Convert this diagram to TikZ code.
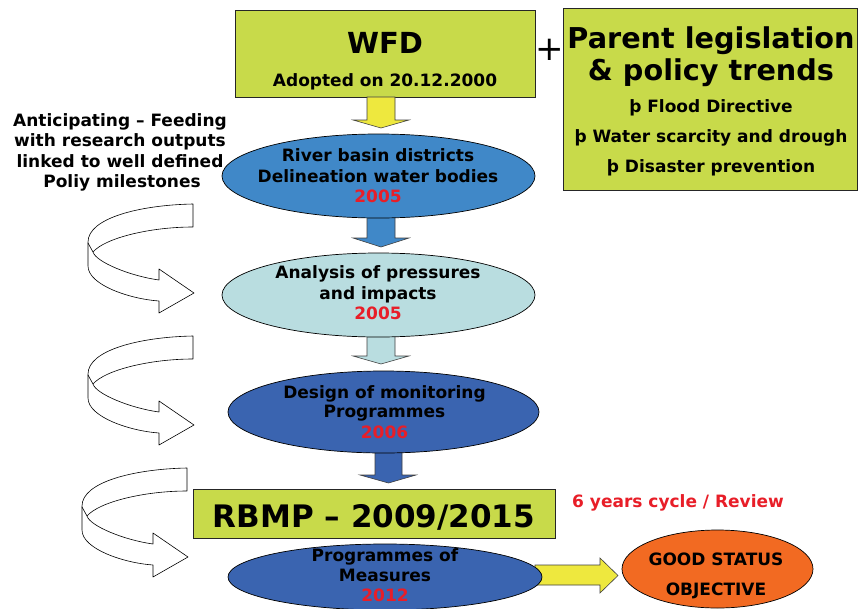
\documentclass[tikz,border=0pt]{standalone}
\usepackage{fontspec}
\setmainfont{DejaVu Sans}
\usetikzlibrary{shapes.geometric}
\definecolor{limebox}{RGB}{200,218,74}
\definecolor{blueA}{RGB}{64,136,200}
\definecolor{cyanL}{RGB}{185,221,224}
\definecolor{blueD}{RGB}{58,100,176}
\definecolor{orangeG}{RGB}{242,106,34}
\definecolor{yellowA}{RGB}{238,232,62}
\definecolor{redT}{RGB}{232,30,40}
\begin{document}
\begin{tikzpicture}[x=1pt,y=-1pt,
  txt/.style={font=\fontsize{17}{20}\selectfont\bfseries, inner sep=0pt, anchor=base},
  redtxt/.style={txt, text=redT},
  greenbox/.style={draw=black!85, line width=0.9pt, fill=limebox, inner sep=0pt},
  oval/.style={ellipse, draw=black, line width=0.7pt, inner sep=0pt},
  blockarr/.style={draw=black!75, line width=0.6pt},
  uturn/.pic={
    \draw[fill=white, line width=0.6pt, line join=round]
      (0,0) .. controls (-53,1) and (-105,14) .. (-105,38) -- (-105,62)
      .. controls (-105,81) and (-63,95) .. (-34,97) -- (-34,109) -- (1,89)
      -- (-34,65) -- (-34,76)
      .. controls (-63,72) and (-97,58) .. (-100,48)
      .. controls (-88,34) and (-43,23) .. (0,23) -- cycle;
    \draw[line width=0.6pt] (-105,39) -- (-100,48);
  }
]
\useasboundingbox[fill=white] (0,0) rectangle (859,608);

% top boxes
\node[greenbox, minimum width=300pt, minimum height=87pt] (wfd) at (385,53.5) {};
\node[txt, font=\fontsize{29}{29}\selectfont\bfseries] (wfdt) at (385,53) {WFD};
\node[txt] (wfda) at (385,86) {Adopted on 20.12.2000};

\node[font=\fontsize{34}{34}\selectfont, inner sep=0pt] (plus) at (549.5,50) {+};

\node[greenbox, minimum width=294pt, minimum height=182pt] (parent) at (710,99) {};
\node[txt, font=\fontsize{28.7}{29}\selectfont\bfseries] (p1) at (711,48) {Parent legislation};
\node[txt, font=\fontsize{28.7}{29}\selectfont\bfseries] (p2) at (711,80) {\& policy trends};
\node[txt] (p3) at (711,112) {þ Flood Directive};
\node[txt] (p4) at (711,142) {þ Water scarcity and drough};
\node[txt] (p5) at (711,172) {þ Disaster prevention};

% left text
\node[txt] (a1) at (120,126) {Anticipating – Feeding};
\node[txt] (a2) at (120,146.5) {with research outputs};
\node[txt] (a3) at (120,167) {linked to well defined};
\node[txt] (a4) at (122,187) {Poliy milestones};

% curved arrows
\pic at (193,204) {uturn};
\pic at (193,336) {uturn};
\pic at (187,468) {uturn};

% block arrows down
\draw[blockarr, fill=yellowA] (367,97) -- (395,97) -- (395,120) -- (409,120) -- (381,128) -- (353,120) -- (367,120) -- cycle;
\draw[blockarr, fill=blueA] (367,216) -- (395,216) -- (395,238) -- (409,238) -- (381,247) -- (353,238) -- (367,238) -- cycle;
\draw[blockarr, fill=cyanL] (367,335) -- (395,335) -- (395,356) -- (409,356) -- (381,364) -- (353,356) -- (367,356) -- cycle;
\draw[blockarr, fill=blueD] (375,451) -- (402,451) -- (402,475) -- (416,475) -- (388.5,483) -- (360,475) -- (375,475) -- cycle;
% arrow right
\draw[blockarr, fill=yellowA] (535,565) -- (600,565) -- (600,558) -- (618,575.5) -- (600,593) -- (600,585) -- (535,585) -- cycle;

% ellipses
\node[oval, fill=blueA, minimum width=313pt, minimum height=84pt] (e1) at (378.5,176) {};
\node[txt] (e1a) at (378,161) {River basin districts};
\node[txt] (e1b) at (378,182) {Delineation water bodies};
\node[redtxt] (e1c) at (378,202) {2005};

\node[oval, fill=cyanL, minimum width=313pt, minimum height=84pt] (e2) at (378.5,295) {};
\node[txt] (e2a) at (378,278) {Analysis of pressures};
\node[txt] (e2b) at (378,299) {and impacts};
\node[redtxt] (e2c) at (378,319) {2005};

\node[oval, fill=blueD, minimum width=311pt, minimum height=82pt] (e3) at (383.5,412) {};
\node[txt] (e3a) at (384.5,398) {Design of monitoring};
\node[txt] (e3b) at (384.5,417) {Programmes};
\node[redtxt] (e3c) at (384.5,438) {2006};

\node[greenbox, minimum width=362pt, minimum height=49pt] (rbmp) at (374,513.5) {};
\node[txt, font=\fontsize{31}{31}\selectfont\bfseries] (rbmpt) at (374,527) {RBMP – 2009/2015};

\node[redtxt, anchor=base west] (cyc) at (572,507) {6 years cycle / Review};

\node[oval, fill=blueD, minimum width=314pt, minimum height=66pt] (e4) at (385,577) {};
\node[txt] (e4a) at (385,561) {Programmes of};
\node[txt] (e4b) at (385,581) {Measures};
\node[redtxt] (e4c) at (385,601) {2012};

\node[oval, fill=orangeG, minimum width=191pt, minimum height=78pt] (goal) at (717.5,569) {};
\node[txt] (g1) at (716,565) {GOOD STATUS};
\node[txt] (g2) at (716,595) {OBJECTIVE};
\end{tikzpicture}
\end{document}
